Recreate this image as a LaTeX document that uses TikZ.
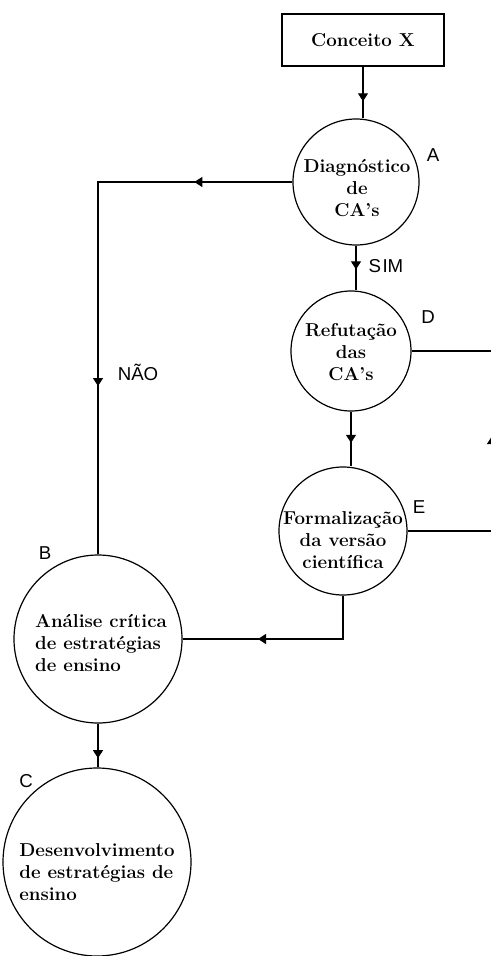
\documentclass[tikz,border=0pt]{standalone}
\usepackage{fontspec}
\newfontfamily\letra{Liberation Sans}
\usetikzlibrary{arrows.meta,decorations.markings}

\begin{document}
\begin{tikzpicture}[x=0.75pt, y=-0.75pt, line width=0.9pt,
    etapa/.style={draw, circle, inner sep=0pt},
    texto/.style={font=\bfseries\fontsize{14}{16.8}\selectfont,
      align=center, inner sep=0pt},
    rotulo/.style={font=\letra\fontsize{14}{16}\selectfont, inner sep=0pt},
    seta/.style={postaction={decorate, decoration={markings,
          mark=at position #1 with {\arrow{Triangle[width=7.5pt,length=6pt]}}}}}
  ]
  \useasboundingbox (0,0) rectangle (490,956);

  % Conceito X
  \node[draw, minimum width=121.5pt, minimum height=39pt, texto]
      (conceito) at (363,40) {Conceito X};

  % circulos
  \node[etapa, minimum size=94.5pt] (diag) at (356,182) {};
  \node[texto] (diagtxt) at (357,188) {Diagnóstico\\de\\CA’s};
  \node[rotulo] (rotA) at (433,155) {A};

  \node[etapa, minimum size=90pt] (refut) at (351,351) {};
  \node[texto] (refuttxt) at (351,352) {Refutação\\das\\CA’s};
  \node[rotulo] (rotD) at (428,317) {D};

  \node[etapa, minimum size=96pt] (formal) at (343,531) {};
  \node[texto] (formaltxt) at (343,540) {Formalização\\da versão\\científica};
  \node[rotulo] (rotE) at (419,507) {E};

  \node[etapa, minimum size=126pt] (analise) at (98,639) {};
  \node[texto, align=left] (analisetxt) at (101,643)
      {Análise crítica\\de estratégias\\de ensino};
  \node[rotulo] (rotB) at (45,553) {B};

  \node[etapa, minimum size=141pt] (desenv) at (97,862) {};
  \node[texto, align=left] (desenvtxt) at (97,872)
      {Desenvolvimento\\de estratégias de\\ensino};
  \node[rotulo] (rotC) at (26,781) {C};

  % SIM / NAO
  \node[rotulo] (sim) at (386,266) {S\kern1pt IM};
  \node[rotulo] (nao) at (138,372) {NÃO};

  % ligacoes
  \draw[seta=0.67] (conceito.south) -- (conceito.south |- diag.north);
  \draw[seta=0.53] (diag.south) -- (diag.south |- refut.north);
  \draw[seta=0.57] (refut.south) -- (refut.south |- formal.north);
  \draw[seta=0.63] (formal.south) |- (analise.east);
  \draw[seta=0.173, seta=0.703] (diag.west) -| (analise.north);
  \draw[seta=0.79] (analise.south) -- (analise.south |- desenv.north);

  % volta E -> D (cortada na margem)
  \coordinate (volta) at (492,351);
  \draw[seta=0.52] (formal.east) -| (volta) -- (refut.east);

\end{tikzpicture}
\end{document}
